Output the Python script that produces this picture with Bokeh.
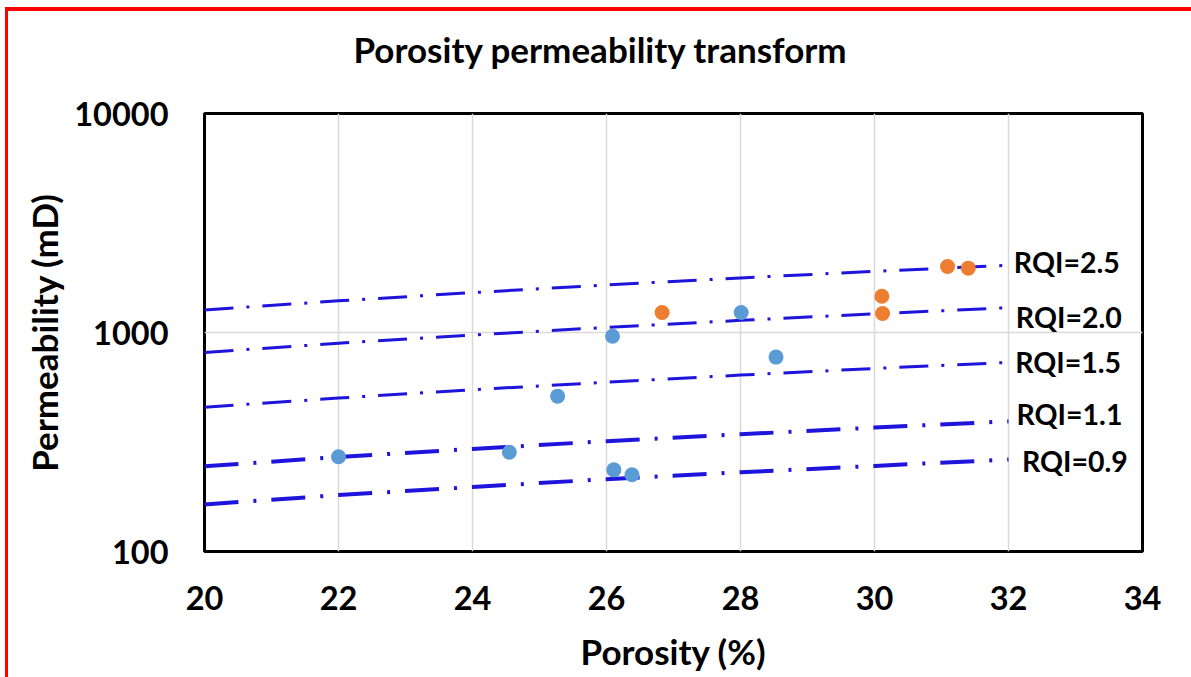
from bokeh.plotting import figure
from bokeh.models import FixedTicker, ColumnDataSource, Title
from bokeh.layouts import column
from bokeh.embed import file_html
from bokeh.resources import INLINE
from bokeh.core.properties import value

# Core-plug measurements: porosity (%) and permeability (mD)
porosity_blue = [22.0, 24.55, 25.27, 26.09, 26.11, 26.38, 28.01, 28.53]
perm_blue = [271, 284, 512, 962, 236, 224, 1234, 772]
porosity_orange = [26.83, 30.11, 30.12, 31.09, 31.40]
perm_orange = [1234, 1465, 1221, 2001, 1967]

# Constant-RQI reference lines (permeability at each porosity step)
rqi_porosity = [20, 22, 24, 26, 28, 30, 32]
rqi_25_perm = [1268, 1395, 1521, 1648, 1775, 1902, 2028]
rqi_20_perm = [811, 893, 974, 1055, 1136, 1217, 1298]
rqi_15_perm = [456, 502, 548, 593, 639, 685, 730]
rqi_11_perm = [245, 270, 294, 319, 343, 368, 393]
rqi_09_perm = [164, 181, 197, 214, 230, 246, 263]
rqi_labels = ["RQI=2.5", "RQI=2.0", "RQI=1.5", "RQI=1.1", "RQI=0.9"]

x_ticks = [20, 22, 24, 26, 28, 30, 32, 34]
y_ticks = [100, 1000, 10000]
y_tick_labels = ["100", "1000", "10000"]

FONT = "Lato"
LINE_BLUE = "#1E14DC"

p = figure(
    width=1183, height=666,
    x_range=(20, 34), y_range=(100, 10000),
    y_axis_type="log",
    output_backend="svg", toolbar_location=None,
    min_border_left=196, min_border_right=49,
    min_border_top=102, min_border_bottom=126,
    background_fill_color="white", border_fill_color="white",
)
p.title.text = ""

# blank strip between the frame and the title, then the title itself
p.add_layout(Title(text=" ", text_font_size="1px", standoff=41), "above")
p.add_layout(Title(
    text="Porosity permeability transform",
    align="left", offset=149, standoff=0,
    text_font=FONT, text_font_size="35px", text_font_style="bold",
    text_color="black",
), "above")

p.outline_line_color = "black"
p.outline_line_width = 3
p.outline_line_alpha = 1

# grid
p.xgrid.ticker = FixedTicker(ticks=x_ticks)
p.ygrid.ticker = FixedTicker(ticks=y_ticks)
for g in (p.xgrid, p.ygrid):
    g.grid_line_color = "#D9D9D9"
    g.grid_line_width = 1.5
    g.minor_grid_line_color = None

# axes
p.xaxis.ticker = FixedTicker(ticks=x_ticks)
p.yaxis.ticker = FixedTicker(ticks=y_ticks)
p.yaxis.major_label_overrides = {t: s for t, s in zip(y_ticks, y_tick_labels)}
for ax in (p.xaxis, p.yaxis):
    ax.axis_line_color = None
    ax.major_tick_line_color = None
    ax.minor_tick_line_color = None
    ax.major_label_text_font = FONT
    ax.major_label_text_font_size = "32.5px"
    ax.major_label_text_font_style = "bold"
    ax.major_label_text_color = "black"
    ax.axis_label_text_font = FONT
    ax.axis_label_text_font_size = "35px"
    ax.axis_label_text_font_style = "bold"
    ax.axis_label_text_color = "black"
p.xaxis.axis_label = "Porosity (%)"
p.yaxis.axis_label = "Permeability (mD)"
p.xaxis.major_label_standoff = 28
p.yaxis.major_label_standoff = 30
p.xaxis.axis_label_standoff = 17
p.yaxis.axis_label_standoff = 6

# RQI lines
upper_dash = "29 13 3 13"
lower_dash = "34 15 3 15"
for perm, width, dash in [
    (rqi_25_perm, 3, upper_dash),
    (rqi_20_perm, 3, upper_dash),
    (rqi_15_perm, 3, upper_dash),
    (rqi_11_perm, 4, lower_dash),
    (rqi_09_perm, 4, lower_dash),
]:
    p.line(rqi_porosity, perm, line_color=LINE_BLUE, line_width=width,
           line_dash=dash, line_cap="butt")

# RQI labels, anchored just past the end of each line
label_src = ColumnDataSource(dict(
    x=[32.08, 32.11, 32.10, 32.12, 32.20],
    y=[2088, 1183, 732, 424, 258],
    text=rqi_labels,
))
p.text(x="x", y="y", text="text", source=label_src,
       text_font=value(FONT), text_font_size="28.5px", text_font_style="bold",
       text_color="black", text_align="left", text_baseline="middle")

# data points
p.scatter(porosity_blue, perm_blue, size=15, fill_color="#5B9BD5",
          line_color=None)
p.scatter(porosity_orange, perm_orange, size=15, fill_color="#ED7D31",
          line_color=None)

layout = column(p, styles={
    "border-left": "3px solid #FF0000",
    "border-top": "4px solid #FF0000",
    "margin-left": "5px",
    "margin-top": "7px",
})

open("out.html", "w").write(file_html(layout, INLINE))
